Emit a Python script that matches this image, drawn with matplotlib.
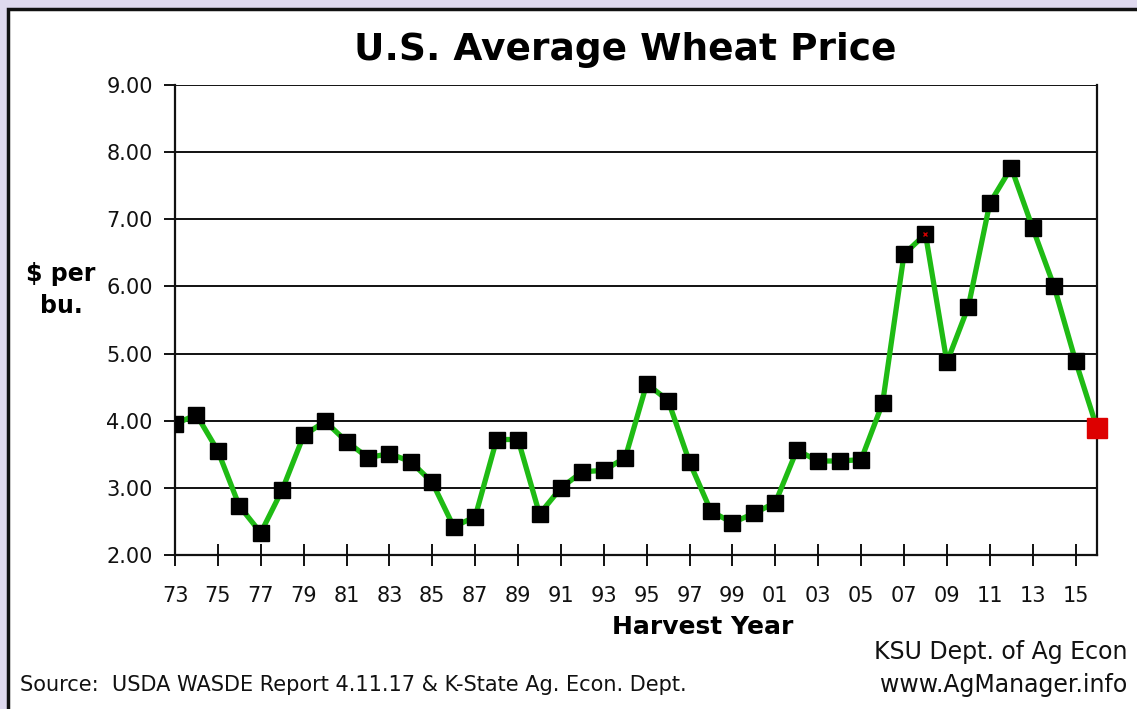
import matplotlib.pyplot as plt
from matplotlib.patches import Rectangle

years = list(range(1973, 2017))
prices = [3.95, 4.09, 3.55, 2.73, 2.33, 2.97, 3.78, 3.99, 3.69, 3.45, 3.51, 3.39,
          3.08, 2.42, 2.57, 3.72, 3.72, 2.61, 3.00, 3.24, 3.26, 3.45, 4.55, 4.30,
          3.38, 2.65, 2.48, 2.62, 2.78, 3.56, 3.40, 3.40, 3.42, 4.26, 6.48, 6.78,
          4.87, 5.70, 7.24, 7.77, 6.87, 6.00, 4.89, 3.89]
tick_years = list(range(1973, 2016, 2))
tick_labels = [str(y)[2:] for y in tick_years]
y_ticks = [2, 3, 4, 5, 6, 7, 8, 9]

fig = plt.figure(figsize=(11.37, 7.09), dpi=100)
fig.patch.set_facecolor("#dfd9ee")

# white panel with black frame
fig.patches.append(Rectangle((8 / 1137, -0.1), 1.2, (709 - 9) / 709 + 0.1,
                             transform=fig.transFigure, facecolor="white",
                             edgecolor="#111111", linewidth=2.5, zorder=-5))

ax = fig.add_axes([175 / 1137, 1 - 555 / 709, 922 / 1137, 470 / 709])
ax.set_zorder(2)
ax.set_facecolor("white")

ax.plot(years, prices, color="#1fbb14", linewidth=3.8, zorder=3)
ax.plot(years[:-1], prices[:-1], "s", color="black", markersize=11, zorder=4)
ax.plot(years[-1], prices[-1], "s", color="#dd0000", markersize=14, zorder=5,
        clip_on=False)
ax.plot(2008, prices[35], "x", color="#cc0000", markersize=3, mew=1, zorder=6)

ax.set_xlim(1973, 2016)
ax.set_ylim(2, 9)
ax.set_yticks(y_ticks)
ax.set_yticklabels(["%.2f" % v for v in y_ticks])
ax.set_xticks(tick_years)
ax.set_xticklabels(tick_labels)
ax.grid(axis="y", color="#111111", linewidth=1.4)
ax.set_axisbelow(True)
for s in ax.spines.values():
    s.set_linewidth(1.6)
    s.set_color("#111111")
ax.spines["top"].set_visible(False)
ax.tick_params(axis="y", direction="out", length=8, width=1.4, labelsize=15,
               pad=8, colors="#111111")
ax.tick_params(axis="x", direction="inout", length=16, width=1.4, labelsize=15,
               pad=14, colors="#111111")

fig.text(625 / 1137, 1 - 50 / 709, "U.S. Average Wheat Price", ha="center",
         va="center", fontsize=27, fontweight="bold")
fig.text(61 / 1137, 1 - 290 / 709, "$ per\nbu.", ha="center", va="center",
         fontsize=17, fontweight="bold", linespacing=1.45)
fig.text(703 / 1137, 1 - 627 / 709, "Harvest Year", ha="center", va="center",
         fontsize=18, fontweight="bold")
fig.text(20 / 1137, 1 - 685 / 709, "Source:  USDA WASDE Report 4.11.17 & K-State Ag. Econ. Dept.",
         ha="left", va="center", fontsize=15, color="#111111")
fig.text(1127 / 1137, 1 - 652 / 709, "KSU Dept. of Ag Econ", ha="right",
         va="center", fontsize=17, color="#111111")
fig.text(1127 / 1137, 1 - 685 / 709, "www.AgManager.info", ha="right",
         va="center", fontsize=17, color="#111111")

fig.savefig("out.png", dpi=100, facecolor=fig.get_facecolor())
